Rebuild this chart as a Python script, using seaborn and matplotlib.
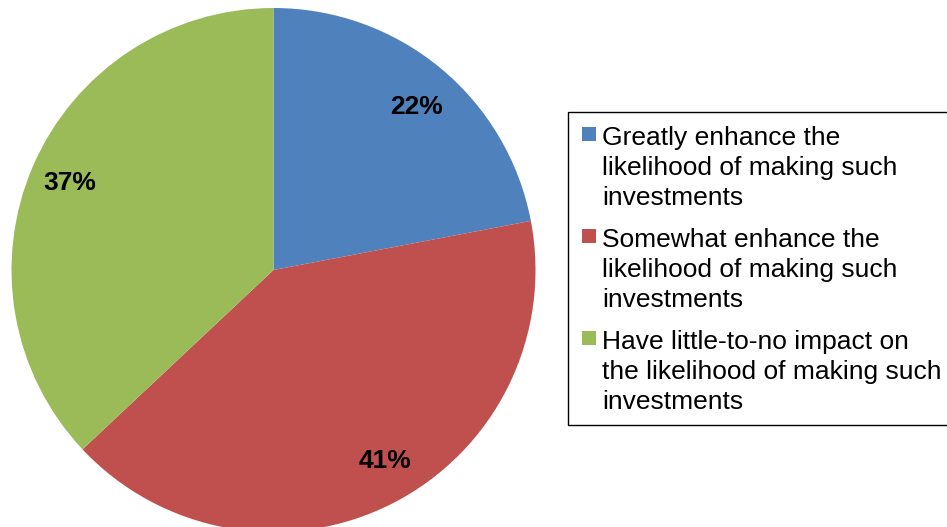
import matplotlib
matplotlib.use("Agg")
import matplotlib.pyplot as plt
import seaborn as sns
import numpy as np
from matplotlib.patches import Rectangle

sns.set_theme(style="white")
plt.rcParams['font.family'] = ['Liberation Sans', 'DejaVu Sans']

categories = [
    "Greatly enhance the\nlikelihood of making such\ninvestments",
    "Somewhat enhance the\nlikelihood of making such\ninvestments",
    "Have little-to-no impact on\nthe likelihood of making such\ninvestments",
]
values = [22, 41, 37]
colors = ["#4F81BD", "#C0504D", "#9BBB59"]

W, H = 947, 527
fig = plt.figure(figsize=(W / 100, H / 100), dpi=100)
fig.patch.set_facecolor("white")

# pie axes: centre (273.5, 270) px from top, radius 262 px
cx, cy, r = 273.5, 270, 262
ax = fig.add_axes([(cx - r) / W, (H - cy - r) / H, 2 * r / W, 2 * r / H])
wedges, texts, autotexts = ax.pie(
    values, colors=colors, startangle=90, counterclock=False,
    autopct='%.0f%%', pctdistance=0.84, radius=1.0,
    wedgeprops=dict(linewidth=0),
    textprops=dict(fontsize=19, fontweight='bold', color='black'),
)
# small "best fit" nudges of label angle (degrees) and radius
angle_nudge = [-1.5, 3.5, -0.2]
dist = [0.832, 0.838, 0.848]
for w, t, da, d in zip(wedges, autotexts, angle_nudge, dist):
    mid = np.deg2rad((w.theta1 + w.theta2) / 2 + da)
    t.set_position((d * np.cos(mid), d * np.sin(mid) - 0.006))
ax.set_xlim(-1, 1)
ax.set_ylim(-1, 1)
ax.set_aspect('equal')
ax.axis('off')

# legend drawn in figure pixel coordinates
def fx(x):
    return x / W

def fy(y):
    return 1 - y / H

frame_left, frame_top, frame_bottom = 568, 112, 425
fig.patches.append(Rectangle((fx(frame_left), fy(frame_bottom)),
                             fx(W + 20 - frame_left), (frame_bottom - frame_top) / H,
                             transform=fig.transFigure, facecolor='white',
                             edgecolor='black', linewidth=1.0, zorder=1))

first_baseline = 145
line_step = 30
entry_step = 102
for i, (lab, col) in enumerate(zip(categories, colors)):
    base = first_baseline + i * entry_step
    fig.patches.append(Rectangle((fx(582), fy(base - 4)), 14 / W, 14 / H,
                                 transform=fig.transFigure, facecolor=col,
                                 edgecolor='none', zorder=2))
    for j, line in enumerate(lab.split("\n")):
        fig.text(fx(602), fy(base + j * line_step), line, fontsize=19,
                 color='black', ha='left', va='baseline', zorder=3)

fig.savefig("out.png", dpi=100, facecolor="white")
